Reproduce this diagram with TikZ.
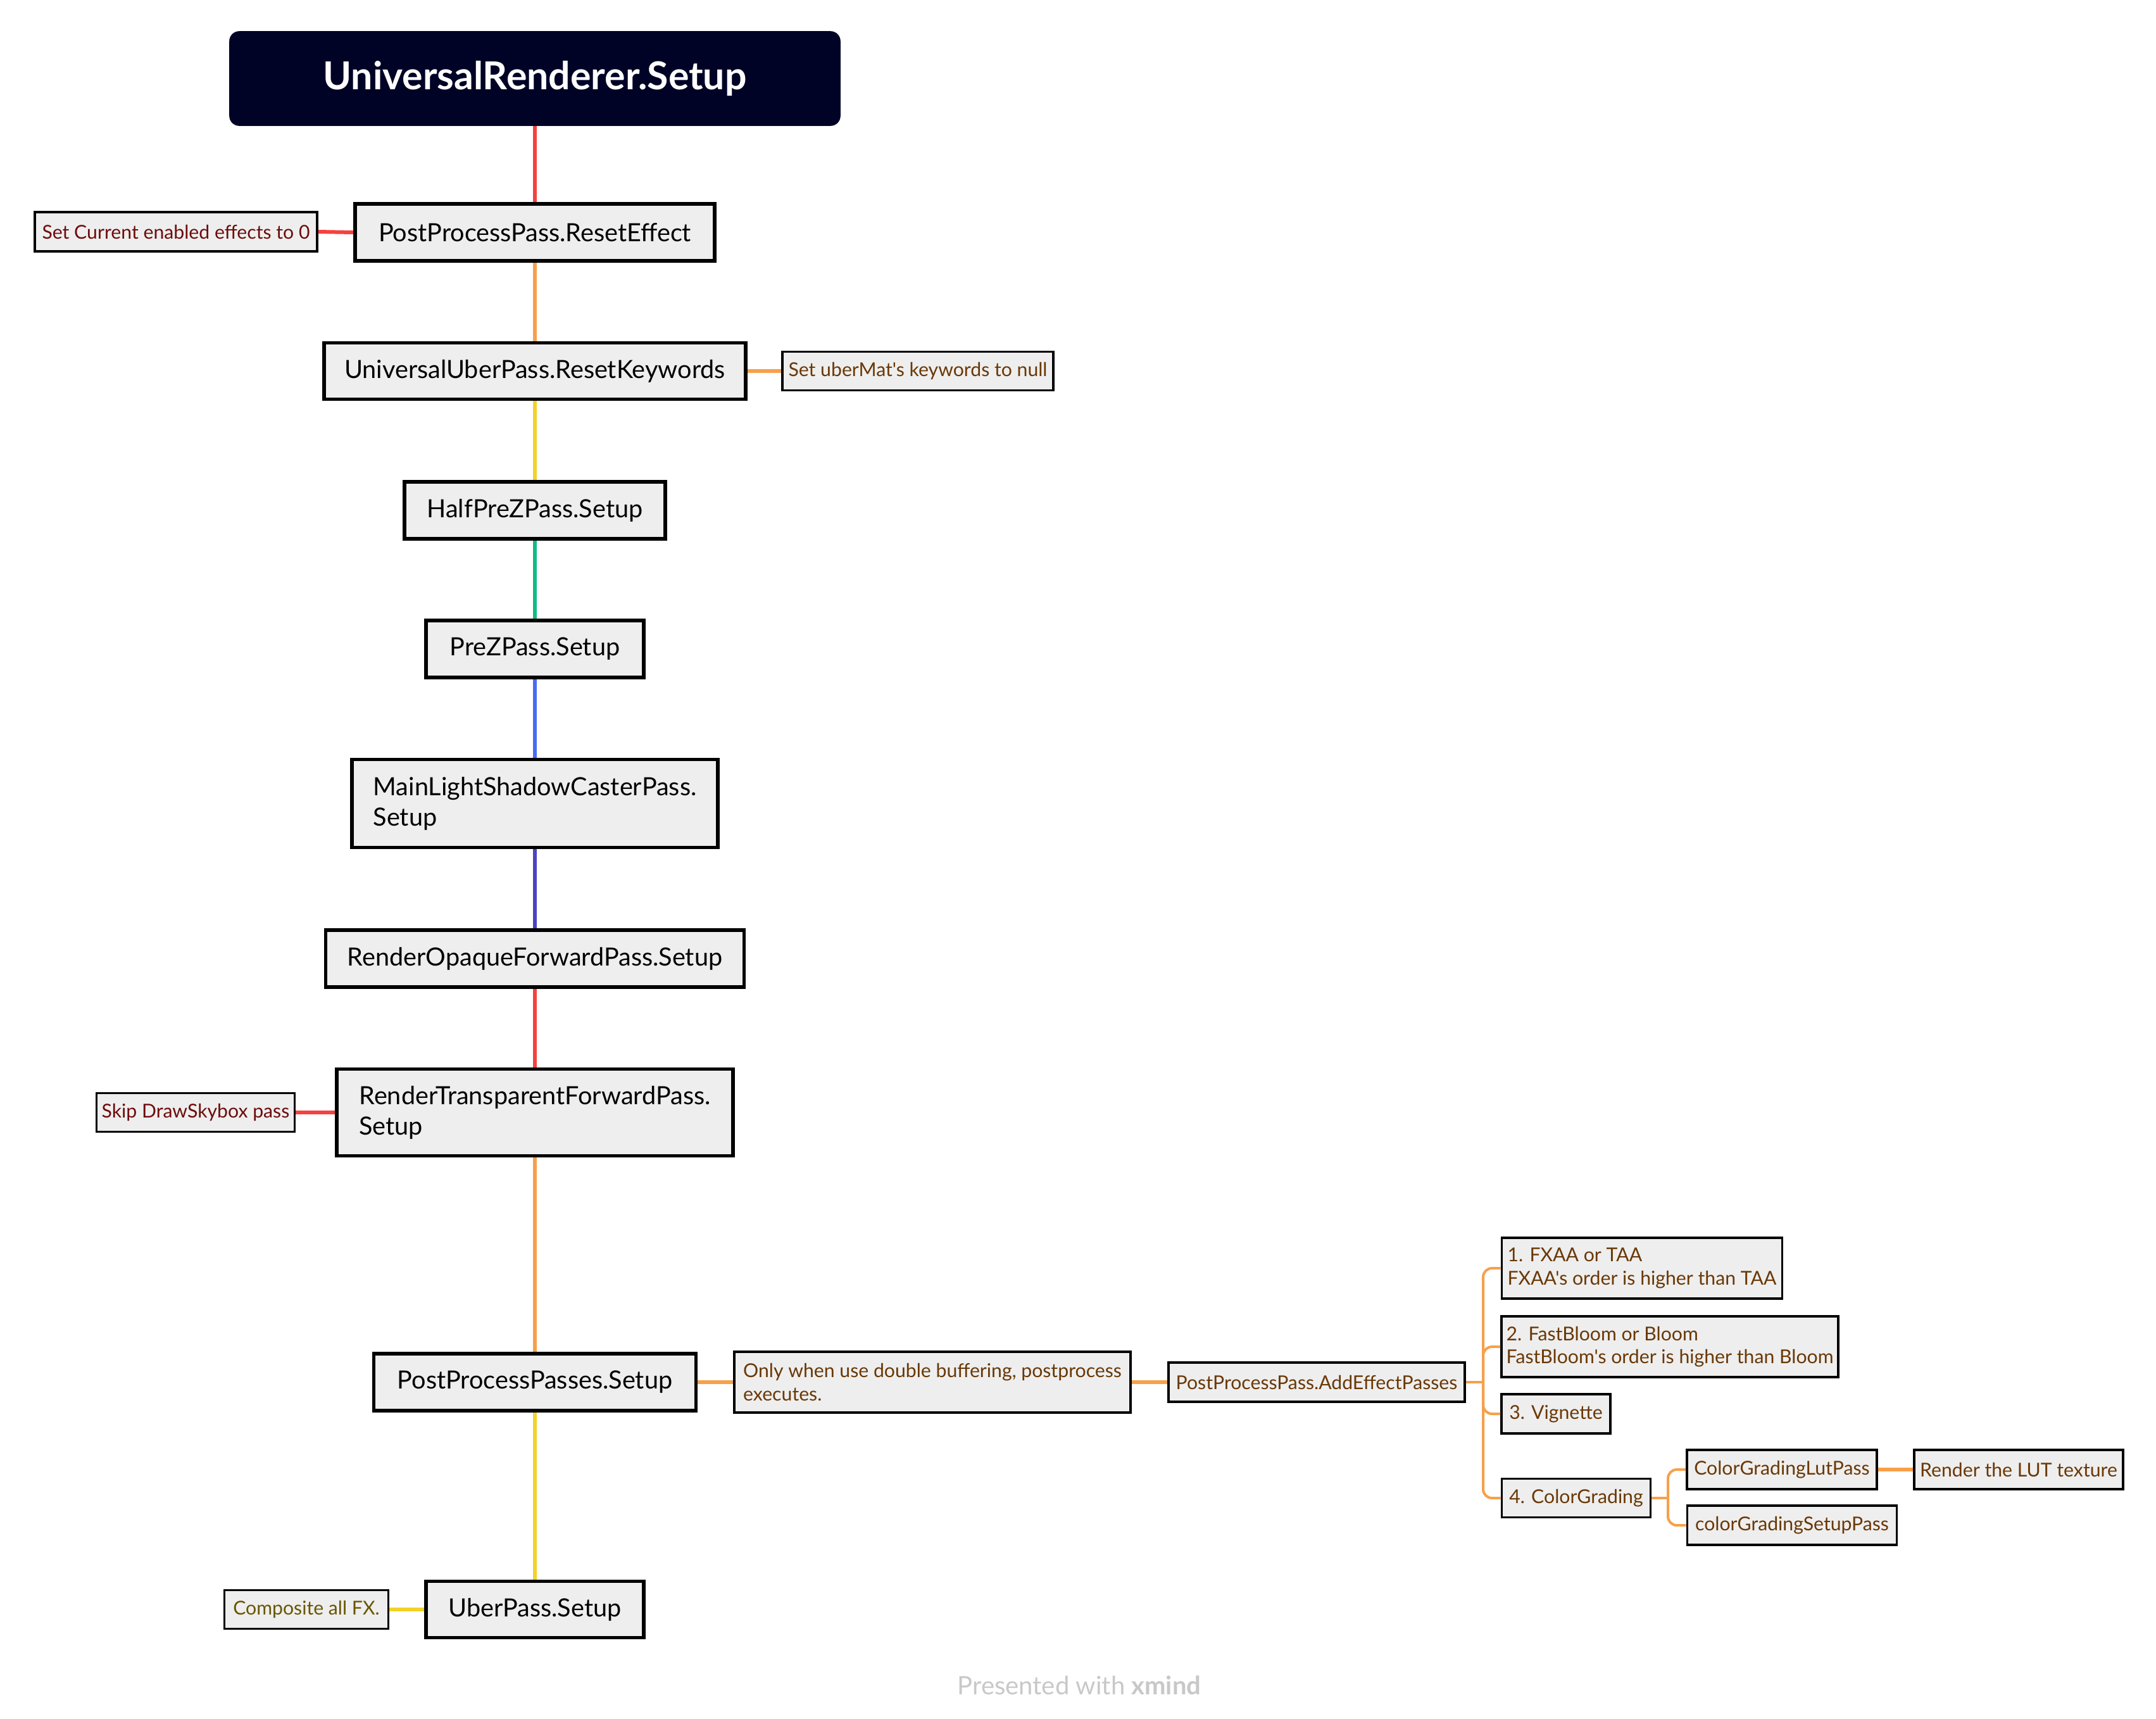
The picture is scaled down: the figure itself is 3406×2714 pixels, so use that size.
\documentclass[tikz,border=0pt]{standalone}
\usepackage{fontspec}
\setmainfont{Lato}[Ligatures=TeXOff]
\usetikzlibrary{calc}

\definecolor{rootfill}{RGB}{0,3,38}
\definecolor{boxfill}{RGB}{238,238,238}
\definecolor{cred}{RGB}{245,66,63}
\definecolor{corange}{RGB}{247,160,75}
\definecolor{cyellow}{RGB}{242,210,42}
\definecolor{cgreen}{RGB}{19,187,133}
\definecolor{cblue}{RGB}{74,107,245}
\definecolor{cindigo}{RGB}{75,69,192}
\definecolor{tred}{RGB}{110,12,12}
\definecolor{torange}{RGB}{106,56,6}
\definecolor{tyellow}{RGB}{104,86,0}
\definecolor{footgray}{RGB}{200,200,200}

\newcommand{\mainfs}{\fontsize{9.9pt}{12pt}\selectfont}
\newcommand{\notefs}{\fontsize{7.55pt}{9.2pt}\selectfont}
\newcommand{\rootfs}{\fontsize{15.2pt}{17pt}\selectfont\bfseries}

\tikzset{
  wh/.style 2 args={minimum width={#1*0.25pt}, minimum height={#2*0.25pt}},
  rootbox/.style={fill=rootfill, draw=rootfill, rounded corners=3.75pt, inner sep=0pt, font=\rootfs, text=white},
  mainbox/.style={draw=black, line width=1.4pt, fill=boxfill, inner sep=0pt, font=\mainfs, text=black, align=left},
  notebox/.style={draw=black, line width=0.95pt, fill=boxfill, inner sep=0pt, font=\notefs, align=left},
  conn/.style={line width=1.5pt},
  tree/.style={line width=1pt, rounded corners=3.5pt},
}

\begin{document}
\begin{tikzpicture}[x=0.25pt,y=-0.25pt]
\useasboundingbox (0,0) rectangle (3406,2714);

% main spine
\node[rootbox, wh={964}{148}] (root) at (845,124) {UniversalRenderer.Setup};
\node[mainbox, wh={568}{90}] (reset) at (845,367) {PostProcessPass.ResetEffect};
\node[mainbox, wh={666}{89}] (keywords) at (845,586) {UniversalUberPass.ResetKeywords};
\node[mainbox, wh={412}{90}] (halfprez) at (845,806) {HalfPreZPass.Setup};
\node[mainbox, wh={344}{90}] (prez) at (845,1025) {PreZPass.Setup};
\node[mainbox, wh={578}{139}] (mainlight) at (845,1269) {MainLightShadowCasterPass.\\Setup};
\node[mainbox, wh={661}{90}] (opaque) at (845,1514) {RenderOpaqueForwardPass.Setup};
\node[mainbox, wh={626}{137}] (transparent) at (845,1757) {RenderTransparentForwardPass.\\Setup};
\node[mainbox, wh={509}{90}] (ppsetup) at (845,2183) {PostProcessPasses.Setup};
\node[mainbox, wh={344}{89}] (uber) at (845,2542) {UberPass.Setup};

% notes
\node[notebox, text=tred, wh={446}{62}] (note1) at (278,366) {Set Current enabled effects to 0};
\node[notebox, text=torange, wh={428}{61}] (note2) at (1450,586) {Set uberMat's keywords to null};
\node[notebox, text=tred, wh={313}{61}] (skip) at (309,1757) {Skip DrawSkybox pass};
\node[notebox, text=torange, wh={626}{96}] (only) at (1473,2183) {Only when use double buffering, postprocess\\executes.};
\node[notebox, text=torange, wh={468}{62}] (addeff) at (2080,2183) {PostProcessPass.AddEffectPasses};
\node[notebox, text=torange, wh={443}{96}] (fxaa) at (2594,2003) {1. FXAA or TAA\\FXAA's order is higher than TAA};
\node[notebox, text=torange, wh={532}{96}] (bloom) at (2638,2127) {2. FastBloom or Bloom\\FastBloom's order is higher than Bloom};
\node[notebox, text=torange, wh={172}{62}] (vignette) at (2458,2233) {3. Vignette};
\node[notebox, text=torange, wh={235}{61}] (cg) at (2490,2366) {4. ColorGrading};
\node[notebox, text=torange, wh={300}{62}] (lut) at (2815,2321) {ColorGradingLutPass};
\node[notebox, text=torange, wh={330}{62}] (lutnote) at (3189,2321) {Render the LUT texture};
\node[notebox, text=torange, wh={331}{62}] (cgsetup) at (2831,2409) {colorGradingSetupPass};
\node[notebox, text=tyellow, wh={259}{61}] (composite) at (484,2542) {Composite all FX.};

% spine connectors
\draw[conn, cred] (root.south) -- (reset.north);
\draw[conn, corange] (reset.south) -- (keywords.north);
\draw[conn, cyellow] (keywords.south) -- (halfprez.north);
\draw[conn, cgreen] (halfprez.south) -- (prez.north);
\draw[conn, cblue] (prez.south) -- (mainlight.north);
\draw[conn, cindigo] (mainlight.south) -- (opaque.north);
\draw[conn, cred] (opaque.south) -- (transparent.north);
\draw[conn, corange] (transparent.south) -- (ppsetup.north);
\draw[conn, cyellow] (ppsetup.south) -- (uber.north);

% side connectors
\draw[conn, cred] (reset.west) -- (note1.east);
\draw[conn, corange] (keywords.east) -- (note2.west);
\draw[conn, cred] (transparent.west) -- (skip.east);
\draw[conn, corange] (ppsetup.east) -- (only.west);
\draw[conn, corange] (only.east) -- (addeff.west);
\draw[conn, cyellow] (uber.west) -- (composite.east);

% effect tree
\coordinate (bus1) at (2343,2183);
\draw[tree, corange] (addeff.east) -- (bus1);
\foreach \c in {fxaa,bloom,vignette,cg} \draw[tree, corange] (bus1) |- (\c.west);
\coordinate (bus2) at (2635,2366);
\draw[tree, corange] (cg.east) -- (bus2);
\draw[tree, corange] (bus2) |- (lut.west);
\draw[tree, corange] (bus2) |- (cgsetup.west);
\draw[conn, corange] (lut.east) -- (lutnote.west);

% footer
\node[text=footgray, font=\fontsize{10pt}{12pt}\selectfont] (footer) at (1705,2662) {Presented with \textbf{xmind}};
\end{tikzpicture}
\end{document}
